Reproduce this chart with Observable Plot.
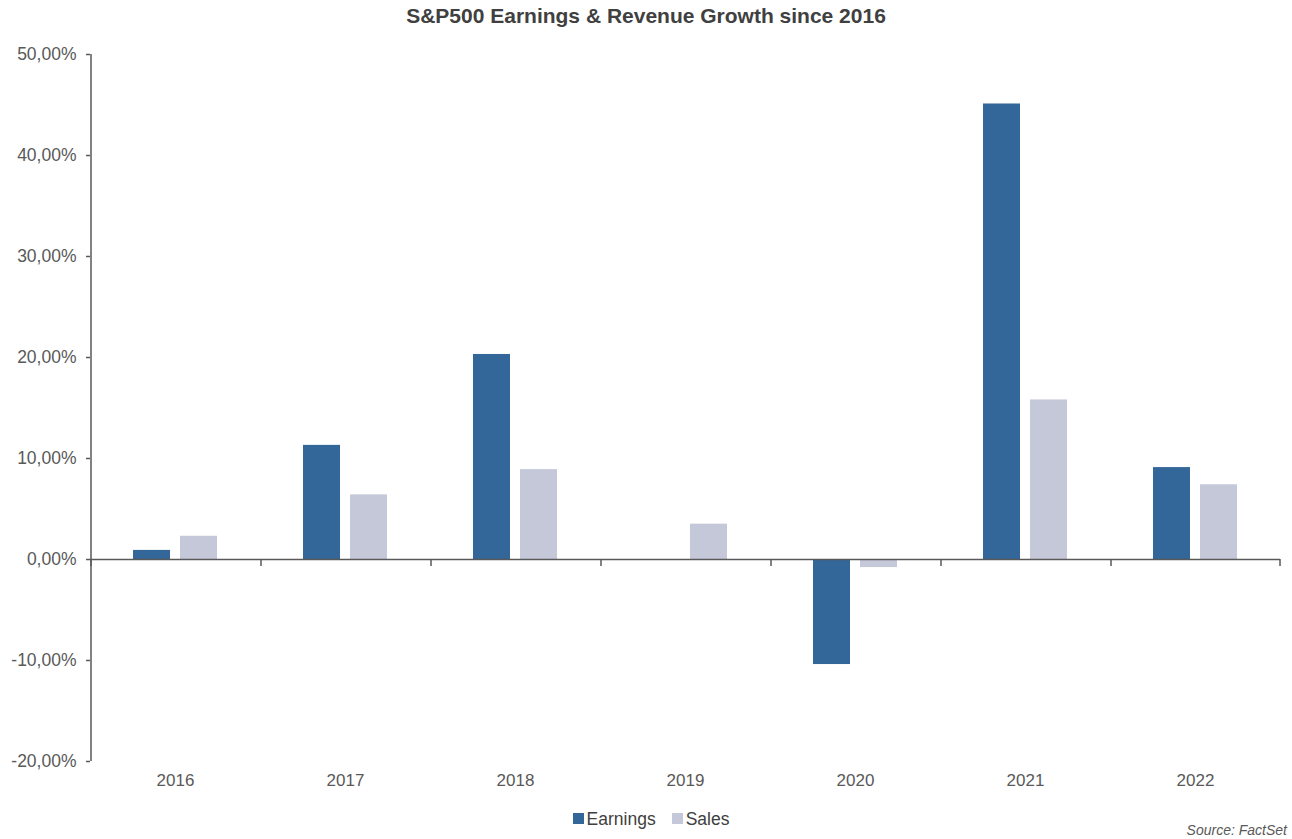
<!DOCTYPE html>
<html>
<head>
<meta charset="utf-8">
<script src="https://cdn.jsdelivr.net/npm/d3@7"></script>
<script src="https://cdn.jsdelivr.net/npm/@observablehq/plot@0.6"></script>
<style>
  html, body { margin: 0; padding: 0; background: #fff; }
  body { width: 1292px; height: 839px; position: relative; overflow: hidden; font-family: "Liberation Sans", Arial, sans-serif; }
  #title { position: absolute; top: 4px; left: 0; width: 1292px; text-align: center; font-weight: bold; font-size: 21px; color: #404040; }
  #chart { position: absolute; top: 38px; left: 0; }
  #legend { position: absolute; top: 807px; left: 5px; width: 1292px; text-align: center; font-size: 17.5px; color: #404040; line-height: 22px; }
  #legend span.item { display: inline-flex; align-items: center; margin: 0 8px; }
  #legend span.sw { display: inline-block; width: 11px; height: 11px; margin-right: 3px; }
  #source { position: absolute; top: 822px; right: 5px; font-size: 14px; font-style: italic; color: #595959; }
</style>
</head>
<body>
<div id="title">S&amp;P500 Earnings &amp; Revenue Growth since 2016</div>
<div id="chart"></div>
<div id="legend"></div>
<div id="source">Source: FactSet</div>
<script>
const years = ["2016", "2017", "2018", "2019", "2020", "2021", "2022"];
const earnings = [0.9, 11.3, 20.3, 0.0, -10.4, 45.1, 9.1];
const sales = [2.3, 6.4, 8.9, 3.5, -0.8, 15.8, 7.4];
const seriesNames = ["Earnings", "Sales"];
const seriesColors = ["#336699", "#c4c8d9"];
const yTicks = [-20, -10, 0, 10, 20, 30, 40, 50];

const data = [];
years.forEach((y, i) => {
  data.push({year: y, series: "Earnings", value: earnings[i]});
  data.push({year: y, series: "Sales", value: sales[i]});
});

const axisColor = "#595959";
const fmt = d => d.toFixed(2).replace(".", ",") + "%";

const chart = Plot.plot({
  width: 1292,
  height: 763,
  marginLeft: 89,
  marginRight: 12,
  marginTop: 16,
  marginBottom: 40,
  style: {fontFamily: "'Liberation Sans', Arial, sans-serif", color: axisColor, background: "transparent"},
  fx: {domain: years, padding: 0},
  x: {domain: seriesNames, paddingInner: 0.208, paddingOuter: 0.875, axis: null},
  y: {domain: [-20, 50]},
  color: {domain: seriesNames, range: seriesColors},
  marks: [
    Plot.barY(data, {fx: "year", x: "series", y: "value", fill: "series"}),
    Plot.ruleY([0], {stroke: axisColor, strokeWidth: 1.5}),
    // y axis line
    Plot.ruleX([years[0]], {fx: d => d, x: () => "Earnings", dx: -61, y1: -20, y2: 50, stroke: axisColor, strokeWidth: 1.5}),
    // category boundary ticks
    Plot.ruleX(years, {fx: d => d, x: () => "Earnings", dx: -61, y1: 0, y2: -0.7, stroke: axisColor, strokeWidth: 1.5}),
    Plot.ruleX([years[years.length - 1]], {fx: d => d, x: () => "Sales", dx: 61, y1: 0, y2: -0.7, stroke: axisColor, strokeWidth: 1.5}),
    Plot.axisY({ticks: yTicks, tickFormat: fmt, tickSize: 4, tickPadding: 10, fontSize: 17.5, label: null, stroke: axisColor, strokeWidth: 1.5, fill: axisColor}),
    Plot.axisFx({anchor: "bottom", tickSize: 0, tickPadding: 12, fontSize: 17, label: null, fill: axisColor})
  ]
});
document.getElementById("chart").appendChild(chart);

const legend = document.getElementById("legend");
seriesNames.forEach((s, i) => {
  const item = document.createElement("span");
  item.className = "item";
  const sw = document.createElement("span");
  sw.className = "sw";
  sw.style.background = seriesColors[i];
  item.appendChild(sw);
  item.appendChild(document.createTextNode(s));
  legend.appendChild(item);
});
</script>
</body>
</html>
